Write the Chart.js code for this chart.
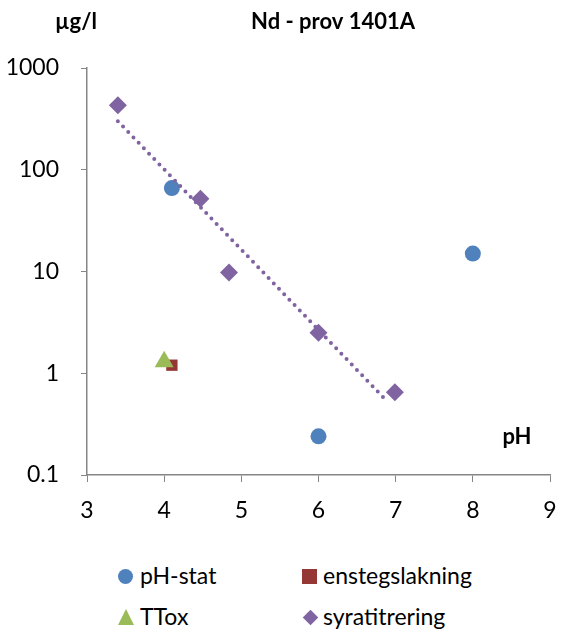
<!DOCTYPE html>
<html>
<head>
<meta charset="utf-8">
<script src="https://cdn.jsdelivr.net/npm/chart.js@4"></script>
<style>
  body { margin: 0; background: #fff; font-family: Lato, "Open Sans", sans-serif; }
  #wrap { position: relative; width: 561px; height: 632px; }
  #chart { position: absolute; left: 0; top: 0; }
  .leg { position: absolute; font-size: 23px; color: #000; line-height: 26px; white-space: nowrap; }
  .mk { position: absolute; }
</style>
</head>
<body>
<div id="wrap">
  <canvas id="chart" width="561" height="545"></canvas>
  <div class="leg" style="left:140px; top:562px;">pH-stat</div>
  <div class="leg" style="left:323px; top:562px;">enstegslakning</div>
  <div class="leg" style="left:140px; top:603px;">TTox</div>
  <div class="leg" style="left:323px; top:603px;">syratitrering</div>
  <div class="mk" style="left:118px; top:569px; width:15px; height:15px; border-radius:50%; background:#4f81bd;"></div>
  <div class="mk" style="left:302px; top:569px; width:15px; height:15px; background:#953735;"></div>
  <div class="mk" style="left:118px; top:609px; width:0; height:0; border-left:8px solid transparent; border-right:8px solid transparent; border-bottom:16px solid #9bbb59;"></div>
  <div class="mk" style="left:305px; top:612px; width:11px; height:11px; background:#8064a2; transform:rotate(45deg);"></div>
</div>
<script>
  // -- data --
  var phStatX = [4.1, 6.0, 8.0];
  var phStatY = [66, 0.24, 15];

  var enstegX = [4.1];
  var enstegY = [1.2];

  var ttoxX = [4.0];
  var ttoxY = [1.3];

  var syraX = [3.4, 4.47, 4.84, 6.0, 6.99];
  var syraY = [430, 52, 9.8, 2.5, 0.65];

  // trendline ends (dotted, exponential fit in the original)
  var trendX = [3.4, 6.9];
  var trendY = [300, 0.52];

  var xTicks = [3, 4, 5, 6, 7, 8, 9];
  var yTicks = [0.1, 1, 10, 100, 1000];

  function pts(xs, ys) {
    var out = [];
    for (var i = 0; i < xs.length; i++) {
      out.push({ x: xs[i], y: ys[i] });
    }
    return out;
  }

  var axisColor = '#868686';
  var font = { family: 'Lato, "Open Sans", sans-serif', size: 23 };

  // titles drawn around the plot area
  var labelsPlugin = {
    id: 'labels',
    afterDraw: function (chart) {
      var ctx = chart.ctx;
      ctx.save();
      ctx.fillStyle = '#000';
      ctx.font = 'bold 22px Lato, "Open Sans", sans-serif';
      ctx.textBaseline = 'middle';
      ctx.textAlign = 'center';
      ctx.fillText('Nd - prov 1401A', 333, 22);
      ctx.fillText('\u00b5g/l', 76, 22);
      ctx.fillText('pH', 517, 437);
      ctx.restore();
    }
  };

  new Chart(document.getElementById('chart').getContext('2d'), {
    type: 'scatter',
    data: {
      datasets: [
        {
          label: 'trend',
          type: 'line',
          data: pts(trendX, trendY),
          borderColor: '#8064a2',
          borderWidth: 4,
          borderDash: [0, 7.5],
          borderCapStyle: 'round',
          pointRadius: 0,
          fill: false,
          order: 0
        },
        {
          label: 'TTox',
          data: pts(ttoxX, ttoxY),
          pointStyle: 'triangle',
          pointRadius: 11,
          backgroundColor: '#9bbb59',
          borderColor: '#9bbb59',
          borderWidth: 0,
          order: 1
        },
        {
          label: 'enstegslakning',
          data: pts(enstegX, enstegY),
          pointStyle: 'rect',
          pointRadius: 8,
          backgroundColor: '#953735',
          borderColor: '#953735',
          borderWidth: 0,
          order: 2
        },
        {
          label: 'syratitrering',
          data: pts(syraX, syraY),
          pointStyle: 'rectRot',
          pointRadius: 9,
          backgroundColor: '#8064a2',
          borderColor: '#8064a2',
          borderWidth: 0,
          order: 3
        },
        {
          label: 'pH-stat',
          data: pts(phStatX, phStatY),
          pointStyle: 'circle',
          pointRadius: 8,
          backgroundColor: '#4f81bd',
          borderColor: '#4f81bd',
          borderWidth: 0,
          order: 4
        }
      ]
    },
    options: {
      responsive: false,
      animation: false,
      layout: { padding: { top: 68, right: 8, left: 0, bottom: 10 } },
      plugins: {
        legend: { display: false },
        tooltip: { enabled: false },
        title: { display: false }
      },
      scales: {
        x: {
          type: 'linear',
          min: 3,
          max: 9,
          afterBuildTicks: function (scale) {
            scale.ticks = xTicks.map(function (v) { return { value: v }; });
          },
          afterFit: function (scale) {
            scale.height = 60;
            scale.paddingRight = 0;
          },
          grid: { drawOnChartArea: false, drawTicks: true, tickLength: 7, color: axisColor },
          border: { color: axisColor, width: 1.5 },
          ticks: { color: '#000', font: font, padding: 15, maxRotation: 0 }
        },
        y: {
          type: 'logarithmic',
          min: 0.1,
          max: 1000,
          afterBuildTicks: function (scale) {
            scale.ticks = yTicks.map(function (v) { return { value: v }; });
          },
          afterFit: function (scale) { scale.width = 87; },
          grid: { drawOnChartArea: false, drawTicks: true, tickLength: 6, color: axisColor },
          border: { color: axisColor, width: 1.5 },
          ticks: {
            color: '#000',
            font: font,
            padding: 22,
            callback: function (v) { return String(v); }
          }
        }
      }
    },
    plugins: [labelsPlugin]
  });
</script>
</body>
</html>
